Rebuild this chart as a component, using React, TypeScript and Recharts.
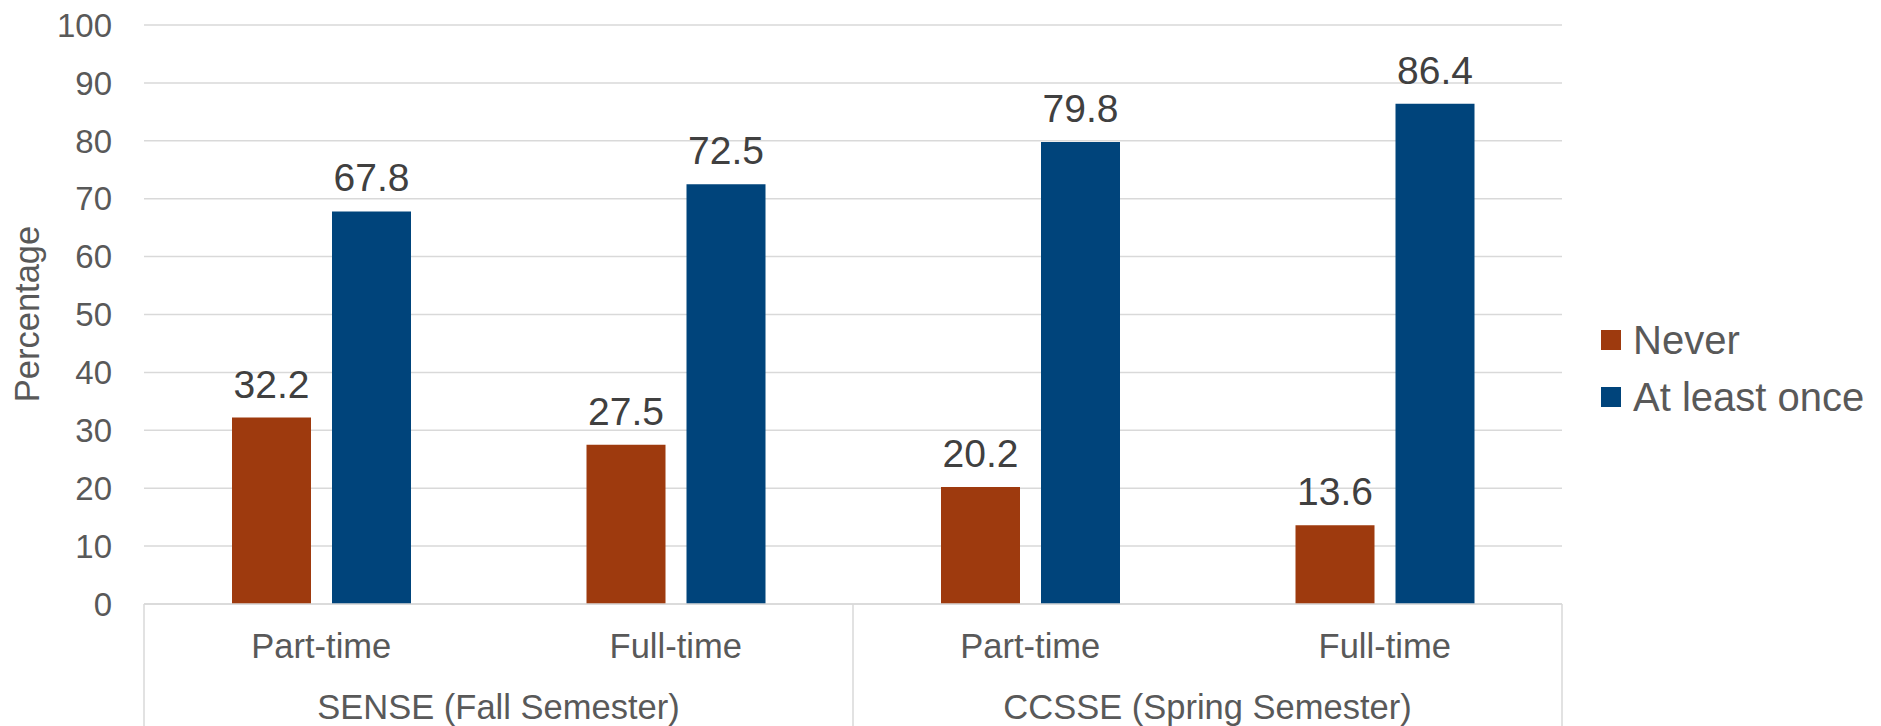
import React from 'react';
import { BarChart, Bar, XAxis, YAxis, CartesianGrid, LabelList, Legend, Label } from 'recharts';

const categories = ['Part-time', 'Full-time', 'Part-time', 'Full-time'];
const groups = ['SENSE (Fall Semester)', 'CCSSE (Spring Semester)'];
const groupOfCategory = [0, 0, 1, 1];
const neverValues = [32.2, 27.5, 20.2, 13.6];
const atLeastOnceValues = [67.8, 72.5, 79.8, 86.4];
const yTicks = [0, 10, 20, 30, 40, 50, 60, 70, 80, 90, 100];

const seriesNames = ['Never', 'At least once'];
const seriesColors = ['#9E3A0E', '#00447B'];

const data = categories.map((c, i) => ({
  key: `${groups[groupOfCategory[i]]}|${c}|${i}`,
  never: neverValues[i],
  atLeastOnce: atLeastOnceValues[i],
}));

const FONT = '"Liberation Sans", Arial, sans-serif';
const TEXT = '#595959';
const GRID = '#D9D9D9';

const W = 1881;
const H = 726;
const MARGIN = { top: 25, right: 319, left: 0, bottom: 0 };
const Y_W = 144;
const X_H = 122;
const N = categories.length;

const XTick = (props: any) => {
  const { x, y, payload } = props;
  const idx: number = payload.index;
  const plotW = W - MARGIN.left - MARGIN.right - Y_W;
  const half = payload.offset && payload.offset > 0 ? payload.offset : plotW / N / 2;
  const bottom = H;
  const items: any[] = [];
  items.push(
    <text key="c" x={x} y={y + 54} textAnchor="middle" fill={TEXT} fontSize={34.5} fontFamily={FONT}>
      {categories[idx]}
    </text>
  );
  const g = groupOfCategory[idx];
  const first = idx === 0 || groupOfCategory[idx - 1] !== g;
  if (first) {
    items.push(<line key="l" x1={x - half} x2={x - half} y1={y} y2={bottom} stroke={GRID} strokeWidth={1.5} />);
    let count = 0;
    for (let k = idx; k < N && groupOfCategory[k] === g; k++) count++;
    const cx = x - half + count * half;
    items.push(
      <text key="g" x={cx} y={y + 115} textAnchor="middle" fill={TEXT} fontSize={34.5} fontFamily={FONT}>
        {groups[g]}
      </text>
    );
  }
  if (idx === N - 1) {
    items.push(<line key="r" x1={x + half} x2={x + half} y1={y} y2={bottom} stroke={GRID} strokeWidth={1.5} />);
  }
  return <g>{items}</g>;
};

const BarLabel = (props: any) => {
  const { x, y, width, value } = props;
  return (
    <text x={x + width / 2} y={y - 20} textAnchor="middle" fill="#404040" fontSize={39} fontFamily={FONT}>
      {value}
    </text>
  );
};

const LegendContent = () => (
  <div style={{ fontFamily: FONT }}>
    {seriesNames.map((n, i) => (
      <div key={n} style={{ display: 'flex', alignItems: 'center', height: 57 }}>
        <div style={{ width: 20, height: 20, background: seriesColors[i], marginRight: 12 }} />
        <span style={{ fontSize: 40, color: TEXT, lineHeight: '40px' }}>{n}</span>
      </div>
    ))}
  </div>
);

export default function App() {
  return (
    <div style={{ position: 'absolute', left: 0, top: 0, width: W, height: H, background: '#fff' }}>
      <BarChart width={W} height={H} data={data} margin={MARGIN} barSize={79} barGap={21}>
        <CartesianGrid vertical={false} stroke={GRID} strokeWidth={1.5} />
        <XAxis
          dataKey="key"
          height={X_H}
          axisLine={{ stroke: GRID, strokeWidth: 1.5 }}
          tickLine={false}
          tickSize={0}
          tickMargin={0}
          tick={<XTick />}
          interval={0}
        />
        <YAxis
          width={Y_W}
          domain={[0, 100]}
          ticks={yTicks}
          axisLine={false}
          tickLine={false}
          tickSize={0}
          tickMargin={32}
          tick={{ fill: TEXT, fontSize: 33, fontFamily: FONT }}
          interval={0}
        >
          <Label
            content={() => (
              <text transform="translate(39,314) rotate(-90)" textAnchor="middle" fill={TEXT} fontSize={34.5} fontFamily={FONT}>
                Percentage
              </text>
            )}
          />
        </YAxis>
        <Legend
          layout="vertical"
          align="center"
          verticalAlign="middle"
          wrapperStyle={{ position: 'absolute', left: 1601, top: 311, width: 280 }}
          content={<LegendContent />}
        />
        <Bar dataKey="never" name={seriesNames[0]} fill={seriesColors[0]} isAnimationActive={false}>
          <LabelList dataKey="never" content={<BarLabel />} />
        </Bar>
        <Bar dataKey="atLeastOnce" name={seriesNames[1]} fill={seriesColors[1]} isAnimationActive={false}>
          <LabelList dataKey="atLeastOnce" content={<BarLabel />} />
        </Bar>
      </BarChart>
    </div>
  );
}
